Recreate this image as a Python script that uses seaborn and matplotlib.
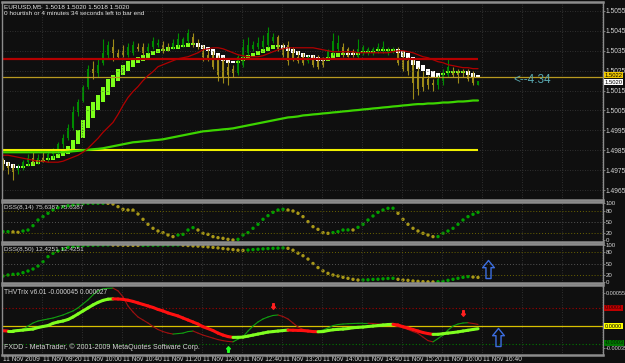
import numpy as np
import pandas as pd
import matplotlib
matplotlib.use("Agg")
import matplotlib.pyplot as plt
import matplotlib.transforms as mtransforms
from matplotlib.collections import LineCollection
from matplotlib.path import Path
import seaborn as sns

# --- EURUSD M5, 11 Nov 2009, one bar every 5 minutes from 08:40 ---
opens = [1.4979, 1.4977, 1.4976, 1.4975, 1.4977, 1.4979, 1.4981, 1.4979, 1.4981, 1.4980,
         1.4983, 1.4985, 1.4988, 1.4991, 1.4996, 1.5004, 1.5010, 1.5017, 1.5026, 1.5024,
         1.5029, 1.5033, 1.5037, 1.5034, 1.5035, 1.5033, 1.5034, 1.5037, 1.5037, 1.5035,
         1.5037, 1.5038, 1.5038, 1.5037, 1.5037, 1.5038, 1.5038, 1.5040, 1.5042, 1.5038,
         1.5035, 1.5033, 1.5033, 1.5032, 1.5030, 1.5027, 1.5026, 1.5024, 1.5028, 1.5034,
         1.5036, 1.5037, 1.5037, 1.5038, 1.5040, 1.5042, 1.5037, 1.5038, 1.5036, 1.5032,
         1.5032, 1.5030, 1.5032, 1.5031, 1.5031, 1.5032, 1.5034, 1.5036, 1.5037, 1.5036,
         1.5035, 1.5032, 1.5034, 1.5034, 1.5034, 1.5035, 1.5035, 1.5034, 1.5035, 1.5036,
         1.5033, 1.5030, 1.5029, 1.5025, 1.5022, 1.5021, 1.5019, 1.5018, 1.5020, 1.5023,
         1.5025, 1.5025, 1.5025, 1.5024, 1.5024, 1.5018]
highs = [1.4981, 1.4979, 1.4978, 1.4978, 1.4980, 1.4983, 1.4984, 1.4983, 1.4984, 1.4985,
         1.4986, 1.4989, 1.4993, 1.4998, 1.5007, 1.5011, 1.5018, 1.5028, 1.5030, 1.5031,
         1.5041, 1.5040, 1.5041, 1.5036, 1.5038, 1.5039, 1.5040, 1.5039, 1.5039, 1.5039,
         1.5042, 1.5041, 1.5040, 1.5039, 1.5041, 1.5044, 1.5042, 1.5046, 1.5044, 1.5041,
         1.5038, 1.5036, 1.5035, 1.5033, 1.5032, 1.5030, 1.5028, 1.5033, 1.5041, 1.5042,
         1.5040, 1.5042, 1.5043, 1.5047, 1.5044, 1.5043, 1.5039, 1.5040, 1.5037, 1.5035,
         1.5034, 1.5033, 1.5033, 1.5033, 1.5032, 1.5036, 1.5044, 1.5043, 1.5039, 1.5037,
         1.5036, 1.5041, 1.5038, 1.5037, 1.5037, 1.5039, 1.5040, 1.5037, 1.5037, 1.5037,
         1.5035, 1.5032, 1.5031, 1.5027, 1.5025, 1.5023, 1.5021, 1.5023, 1.5026, 1.5031,
         1.5027, 1.5026, 1.5026, 1.5026, 1.5025, 1.5020]
lows = [1.4975, 1.4973, 1.4970, 1.4973, 1.4975, 1.4977, 1.4978, 1.4978, 1.4979, 1.4979,
        1.4981, 1.4983, 1.4986, 1.4990, 1.4995, 1.5002, 1.5009, 1.5016, 1.5021, 1.5022,
        1.5028, 1.5031, 1.5030, 1.5031, 1.5032, 1.5032, 1.5033, 1.5035, 1.5033, 1.5034,
        1.5036, 1.5037, 1.5034, 1.5035, 1.5036, 1.5037, 1.5037, 1.5039, 1.5037, 1.5036,
        1.5030, 1.5030, 1.5026, 1.5020, 1.5019, 1.5018, 1.5022, 1.5023, 1.5027, 1.5033,
        1.5035, 1.5036, 1.5036, 1.5037, 1.5039, 1.5035, 1.5032, 1.5028, 1.5030, 1.5029,
        1.5028, 1.5029, 1.5027, 1.5026, 1.5027, 1.5031, 1.5033, 1.5035, 1.5032, 1.5032,
        1.5032, 1.5031, 1.5033, 1.5033, 1.5033, 1.5034, 1.5034, 1.5033, 1.5034, 1.5028,
        1.5025, 1.5023, 1.5011, 1.5013, 1.5015, 1.5016, 1.5015, 1.5016, 1.5018, 1.5022,
        1.5022, 1.5019, 1.5022, 1.5020, 1.5018, 1.5018]
closes = [1.4977, 1.4976, 1.4974, 1.4977, 1.4979, 1.4981, 1.4979, 1.4981, 1.4980, 1.4983,
          1.4985, 1.4988, 1.4991, 1.4996, 1.5004, 1.5009, 1.5017, 1.5026, 1.5024, 1.5028,
          1.5034, 1.5038, 1.5034, 1.5032, 1.5033, 1.5037, 1.5038, 1.5036, 1.5034, 1.5037,
          1.5040, 1.5039, 1.5035, 1.5036, 1.5039, 1.5041, 1.5041, 1.5044, 1.5038, 1.5037,
          1.5032, 1.5031, 1.5027, 1.5023, 1.5022, 1.5023, 1.5024, 1.5032, 1.5037, 1.5038,
          1.5038, 1.5039, 1.5040, 1.5044, 1.5042, 1.5036, 1.5033, 1.5030, 1.5031, 1.5030,
          1.5029, 1.5032, 1.5028, 1.5027, 1.5028, 1.5035, 1.5040, 1.5039, 1.5033, 1.5032,
          1.5033, 1.5036, 1.5037, 1.5036, 1.5036, 1.5037, 1.5037, 1.5036, 1.5036, 1.5029,
          1.5026, 1.5025, 1.5019, 1.5016, 1.5017, 1.5018, 1.5018, 1.5021, 1.5024, 1.5027,
          1.5023, 1.5023, 1.5024, 1.5021, 1.5019, 1.5020]

# Heiken Ashi bodies
ha_open = [1.4980, 1.4979, 1.4978, 1.4977, 1.4976, 1.4977, 1.4977, 1.4978, 1.4979, 1.4980,
           1.4980, 1.4981, 1.4982, 1.4983, 1.4985, 1.4988, 1.4991, 1.4996, 1.5001, 1.5005,
           1.5009, 1.5013, 1.5017, 1.5020, 1.5023, 1.5025, 1.5027, 1.5029, 1.5030, 1.5031,
           1.5033, 1.5034, 1.5035, 1.5035, 1.5036, 1.5036, 1.5037, 1.5037, 1.5038, 1.5039,
           1.5038, 1.5037, 1.5036, 1.5034, 1.5033, 1.5031, 1.5030, 1.5029, 1.5030, 1.5031,
           1.5032, 1.5033, 1.5034, 1.5035, 1.5036, 1.5037, 1.5038, 1.5037, 1.5036, 1.5035,
           1.5034, 1.5033, 1.5033, 1.5032, 1.5031, 1.5030, 1.5031, 1.5032, 1.5033, 1.5034,
           1.5034, 1.5033, 1.5034, 1.5034, 1.5034, 1.5035, 1.5035, 1.5035, 1.5035, 1.5036,
           1.5035, 1.5034, 1.5032, 1.5030, 1.5028, 1.5026, 1.5025, 1.5024, 1.5023, 1.5024,
           1.5024, 1.5024, 1.5024, 1.5025, 1.5024, 1.5023]
ha_close = [1.4978, 1.4977, 1.4976, 1.4976, 1.4977, 1.4978, 1.4979, 1.4980, 1.4980, 1.4981,
            1.4982, 1.4983, 1.4985, 1.4987, 1.4990, 1.4995, 1.5000, 1.5007, 1.5009, 1.5013,
            1.5017, 1.5021, 1.5023, 1.5026, 1.5028, 1.5030, 1.5031, 1.5032, 1.5033, 1.5034,
            1.5035, 1.5036, 1.5036, 1.5037, 1.5037, 1.5038, 1.5038, 1.5039, 1.5039, 1.5037,
            1.5036, 1.5035, 1.5033, 1.5031, 1.5030, 1.5029, 1.5029, 1.5030, 1.5032, 1.5033,
            1.5034, 1.5035, 1.5036, 1.5037, 1.5038, 1.5038, 1.5036, 1.5035, 1.5034, 1.5033,
            1.5032, 1.5032, 1.5031, 1.5030, 1.5030, 1.5032, 1.5034, 1.5034, 1.5034, 1.5033,
            1.5033, 1.5034, 1.5035, 1.5035, 1.5035, 1.5036, 1.5036, 1.5036, 1.5036, 1.5034,
            1.5032, 1.5031, 1.5028, 1.5026, 1.5025, 1.5023, 1.5022, 1.5022, 1.5024, 1.5025,
            1.5025, 1.5025, 1.5025, 1.5023, 1.5022, 1.5022]

# moving averages
ma_red = [1.49825, 1.49825, 1.49820, 1.49815, 1.49810, 1.49805, 1.49800, 1.49795, 1.49795, 1.49790,
          1.49790, 1.49790, 1.49795, 1.49805, 1.49815, 1.49825, 1.49840, 1.49860, 1.49885, 1.49910,
          1.49940, 1.49965, 1.49990, 1.50030, 1.50075, 1.50115, 1.50145, 1.50170, 1.50200, 1.50225,
          1.50245, 1.50270, 1.50280, 1.50290, 1.50300, 1.50310, 1.50315, 1.50320, 1.50330, 1.50340,
          1.50355, 1.50360, 1.50365, 1.50365, 1.50360, 1.50350, 1.50340, 1.50330, 1.50325, 1.50320,
          1.50320, 1.50320, 1.50325, 1.50335, 1.50345, 1.50355, 1.50360, 1.50365, 1.50365, 1.50365,
          1.50365, 1.50365, 1.50365, 1.50360, 1.50355, 1.50350, 1.50345, 1.50345, 1.50345, 1.50345,
          1.50345, 1.50340, 1.50340, 1.50340, 1.50340, 1.50340, 1.50340, 1.50340, 1.50345, 1.50350,
          1.50350, 1.50345, 1.50340, 1.50330, 1.50320, 1.50315, 1.50305, 1.50295, 1.50290, 1.50280,
          1.50275, 1.50270, 1.50265, 1.50265, 1.50260, 1.50260]
ma_green = [1.49840, 1.49840, 1.49840, 1.49840, 1.49840, 1.49840, 1.49840, 1.49840, 1.49840, 1.49840,
            1.49840, 1.49840, 1.49840, 1.49842, 1.49845, 1.49847, 1.49850, 1.49852, 1.49855, 1.49857,
            1.49860, 1.49865, 1.49870, 1.49875, 1.49880, 1.49885, 1.49890, 1.49892, 1.49895, 1.49897,
            1.49900, 1.49902, 1.49905, 1.49910, 1.49915, 1.49920, 1.49925, 1.49930, 1.49935, 1.49940,
            1.49945, 1.49947, 1.49950, 1.49952, 1.49955, 1.49957, 1.49960, 1.49965, 1.49970, 1.49975,
            1.49980, 1.49985, 1.49990, 1.49995, 1.50000, 1.50005, 1.50010, 1.50015, 1.50017, 1.50020,
            1.50025, 1.50027, 1.50030, 1.50032, 1.50035, 1.50037, 1.50040, 1.50042, 1.50045, 1.50047,
            1.50050, 1.50052, 1.50055, 1.50057, 1.50060, 1.50062, 1.50065, 1.50067, 1.50070, 1.50072,
            1.50075, 1.50077, 1.50080, 1.50082, 1.50082, 1.50085, 1.50085, 1.50087, 1.50090, 1.50090,
            1.50092, 1.50095, 1.50095, 1.50097, 1.50100, 1.50100]

level_red = 1.5031
level_yellow = 1.4985
level_gold = 1.5022
bid = 1.5020
spread_note = "<--4.34"

# DSS oscillators
dss_fast = [22.7, 22.7, 22.0, 20.9, 24.5, 27.2, 39.0, 54.5, 63.6, 72.7,
            81.7, 88.0, 90.8, 93.5, 95.4, 98.0, 99.0, 99.9, 100.0, 100.0,
            100.0, 99.9, 98.0, 90.8, 83.6, 81.7, 81.5, 70.8, 56.3, 42.7,
            31.8, 24.5, 20.0, 13.6, 9.1, 13.6, 15.4, 27.2, 33.6, 27.2,
            18.2, 15.4, 9.1, 6.4, 4.5, 1.8, 0.0, 1.8, 13.6, 20.0,
            31.8, 42.7, 56.3, 66.3, 75.4, 81.7, 83.6, 81.7, 79.0, 72.7,
            63.6, 50.0, 36.3, 29.0, 20.0, 18.2, 20.0, 22.7, 27.2, 27.5,
            27.3, 34.5, 42.7, 54.5, 65.4, 75.4, 81.7, 86.3, 86.5, 72.7,
            56.3, 42.7, 31.8, 24.5, 18.2, 13.6, 9.1, 9.3, 18.2, 24.5,
            31.8, 42.7, 54.5, 63.6, 70.0, 75.6]
dss_slow = [16.2, 18.9, 20.7, 21.6, 25.2, 29.7, 35.1, 43.2, 55.0, 68.5,
            77.5, 83.8, 89.2, 93.7, 95.5, 97.3, 98.2, 98.8, 99.3, 99.6,
            99.8, 100.0, 99.7, 99.5, 99.3, 99.1, 99.0, 98.9, 99.0, 99.2,
            99.4, 99.5, 99.6, 99.7, 99.8, 99.9, 99.5, 98.5, 97.6, 97.0,
            96.0, 94.9, 93.5, 92.2, 90.4, 89.0, 87.6, 86.0, 85.5, 86.5,
            87.6, 88.6, 89.5, 90.4, 91.0, 91.5, 92.0, 91.0, 86.0, 78.0,
            71.0, 62.0, 50.0, 39.0, 30.0, 23.4, 18.9, 16.2, 12.6, 9.9,
            7.2, 5.4, 5.6, 6.0, 7.0, 7.5, 8.5, 9.5, 10.0, 7.2,
            5.4, 4.5, 2.7, 1.8, 0.9, 0.5, 0.2, 0.9, 1.8, 4.5,
            7.2, 9.9, 12.6, 14.5, 13.4, 12.4]

# THV Trix
thv_main = [-0.000078, -0.000083, -0.000083, -0.000075, -0.000067, -0.000058, -0.000050, -0.000025, -0.000008, 0.000008,
            0.000045, 0.000067, 0.000083, 0.000108, 0.000150, 0.000200, 0.000250, 0.000300, 0.000350, 0.000392,
            0.000425, 0.000445, 0.000450, 0.000448, 0.000442, 0.000428, 0.000408, 0.000383, 0.000358, 0.000333,
            0.000308, 0.000275, 0.000250, 0.000217, 0.000192, 0.000167, 0.000133, 0.000100, 0.000067, 0.000033,
            -0.000012, -0.000042, -0.000075, -0.000117, -0.000150, -0.000175, -0.000188, -0.000187, -0.000183, -0.000167,
            -0.000150, -0.000133, -0.000117, -0.000100, -0.000092, -0.000083, -0.000075, -0.000067, -0.000070, -0.000072,
            -0.000075, -0.000083, -0.000092, -0.000095, -0.000092, -0.000075, -0.000062, -0.000055, -0.000050, -0.000042,
            -0.000028, -0.000022, -0.000017, -0.000008, 0.000000, 0.000008, 0.000017, 0.000025, 0.000028, 0.000017,
            -0.000012, -0.000033, -0.000058, -0.000083, -0.000108, -0.000125, -0.000138, -0.000137, -0.000128, -0.000117,
            -0.000108, -0.000097, -0.000083, -0.000070, -0.000057, -0.000045]
thv_signal = [-0.000067, -0.000075, -0.000075, -0.000067, -0.000058, 0.000000, 0.000050, 0.000083, 0.000100, 0.000117,
              0.000133, 0.000158, 0.000183, 0.000217, 0.000250, 0.000300, 0.000367, 0.000433, 0.000517, 0.000583,
              0.000617, 0.000625, 0.000628, 0.000583, 0.000483, 0.000333, 0.000233, 0.000150, 0.000100, 0.000050,
              -0.000008, -0.000058, -0.000092, -0.000117, -0.000133, -0.000125, -0.000117, -0.000092, -0.000083, -0.000117,
              -0.000150, -0.000175, -0.000200, -0.000225, -0.000242, -0.000255, -0.000262, -0.000217, -0.000178, -0.000083,
              0.000000, 0.000067, 0.000117, 0.000150, 0.000175, 0.000183, 0.000158, 0.000117, 0.000050, -0.000017,
              -0.000055, -0.000075, -0.000083, -0.000082, -0.000067, -0.000033, 0.000008, 0.000025, 0.000033, 0.000038,
              0.000042, 0.000045, 0.000046, 0.000046, 0.000042, 0.000033, 0.000028, 0.000023, 0.000017, -0.000008,
              -0.000028, -0.000058, -0.000092, -0.000122, -0.000183, -0.000242, -0.000262, -0.000208, -0.000150, -0.000067,
              0.000000, 0.000033, 0.000050, 0.000055, 0.000042, 0.000027]
thv_levels = [0.0003, 0.0, -0.0003]
sell_arrows_bar = [54, 92]
sell_arrows_val = [0.00033, 0.00022]
buy_arrows_bar = [45]
buy_arrows_val = [-0.00038]
blue_dss_bar, blue_dss_val = 97, 36
blue_thv_bar, blue_thv_val = 99, -0.000175

time_labels = ["11 Nov 2009", "11 Nov 09:20", "11 Nov 10:00", "11 Nov 10:40", "11 Nov 11:20",
               "11 Nov 12:00", "11 Nov 12:40", "11 Nov 13:20", "11 Nov 14:00", "11 Nov 14:40",
               "11 Nov 15:20", "11 Nov 16:00", "11 Nov 16:40"]
price_ticks = [1.4965, 1.4975, 1.4985, 1.4995, 1.5005, 1.5015, 1.5025, 1.5035, 1.5045, 1.5055]
dss_ticks = [0, 20, 50, 80, 100]

# --- style ---
BG = "#0f0f0f"
FRAME = "#8c8c8c"
GRID = "#3a3a3a"
TXT = "#d4d4d4"
CANDLE_UP, CANDLE_DN = "#008c00", "#9c8a18"
HA_UP, HA_DN = "#7cff1a", "#ffffff"
DOT_UP, DOT_DN = "#00a000", "#a89818"
NARROW = ["Liberation Sans Narrow", "Liberation Sans", "DejaVu Sans"]

sns.set_theme(style="dark", rc={"axes.facecolor": BG, "figure.facecolor": BG})
plt.rcParams["font.family"] = ["Liberation Sans", "DejaVu Sans"]

W, H = 625, 363
fig = plt.figure(figsize=(W / 100, H / 100), dpi=100, facecolor=BG)

bars = np.arange(len(closes))
grid_bars = np.arange(0, 121, 8) - 0.2


def panel(top, bottom):
    ax = fig.add_axes([2 / W, 1 - bottom / H, 601 / W, (bottom - top) / H])
    ax.set_facecolor(BG)
    ax.set_xlim(-0.2, 120.0)
    for s in ax.spines.values():
        s.set_color(FRAME)
        s.set_linewidth(1.0)
    ax.spines["top"].set_linewidth(1.8)
    ax.spines["bottom"].set_linewidth(1.8)
    ax.grid(False)
    ax.yaxis.tick_right()
    ax.tick_params(axis="y", colors=FRAME, labelcolor=TXT, labelsize=4.8, length=1.5, width=0.6, pad=0.5)
    ax.tick_params(axis="x", length=0, labelbottom=False)
    return ax


def finish(ax, lim, ticks, labels):
    ax.set_xlim(-0.2, 120.0)
    ax.set_ylim(*lim)
    ax.set_xlabel("")
    ax.set_ylabel("")
    ax.set_yticks(ticks)
    ax.set_yticklabels(labels, family=NARROW)


def side_label(ax, val, text, face, color="black", size=4.6):
    tr = mtransforms.blended_transform_factory(ax.transAxes, ax.transData)
    ax.text(1.003, val, text, transform=tr, fontsize=size, color=color, va="center", ha="left",
            family=NARROW, clip_on=False, bbox=dict(facecolor=face, edgecolor="none", pad=0.4))


def trend_line(ax, y, up, down, lw):
    y = np.asarray(y)
    pts = np.column_stack([bars, y])
    segs = np.stack([pts[:-1], pts[1:]], axis=1)
    cols = [up if b >= a else down for a, b in zip(y[:-1], y[1:])]
    ax.add_collection(LineCollection(segs, colors=cols, linewidths=lw, capstyle="round"))


arrow_up = Path([(0, 1), (0.65, 0.2), (0.28, 0.2), (0.28, -1), (-0.28, -1), (-0.28, 0.2), (-0.65, 0.2), (0, 1)],
                [Path.MOVETO] + [Path.LINETO] * 6 + [Path.CLOSEPOLY])
arrow_down = Path(arrow_up.vertices * [1, -1], arrow_up.codes)

# --- main price window ---
main_lim = (1.4960, 1.50595)
ax = panel(2, 200)
ax.vlines(grid_bars, *main_lim, colors=GRID, linestyles=(0, (1, 2)), lw=0.6)
ax.hlines(price_ticks, -0.2, 120, colors=GRID, linestyles=(0, (1, 2)), lw=0.6)

o, hi, lo, c = map(np.asarray, (opens, highs, lows, closes))
cdl_col = np.where(c >= o, CANDLE_UP, CANDLE_DN)
ax.vlines(bars, lo, hi, colors=cdl_col, lw=0.8)
ax.bar(bars, np.maximum(np.abs(c - o), 0.00004), bottom=np.minimum(o, c), width=0.55, color=cdl_col, linewidth=0)

hao, hac = np.asarray(ha_open), np.asarray(ha_close)
ha_col = np.where(hac >= hao, HA_UP, HA_DN)
ax.bar(bars, np.maximum(np.abs(hac - hao), 0.00005), bottom=np.minimum(hao, hac), width=0.7, color=ha_col, linewidth=0)

ax.hlines(level_red, -0.2, bars[-1], colors="#b40000", lw=1.6)
ax.hlines(level_yellow, -0.2, bars[-1], colors="#f0f000", lw=1.5)
ax.hlines(level_gold, -0.2, 120, colors="#b89a20", lw=0.9)
sns.lineplot(x=bars, y=ma_green, color="#3cd400", lw=1.6, ax=ax)
sns.lineplot(x=bars, y=ma_red, color="#b00000", lw=0.9, ax=ax)
finish(ax, main_lim, price_ticks, [f"{p:.4f}" for p in price_ticks])

ax.text(0.004, 0.99, "EURUSD,M5  1.5018 1.5020 1.5018 1.5020", transform=ax.transAxes, va="top", ha="left",
        fontsize=4.6, color="#e8e8e8", family=NARROW)
ax.text(0.004, 0.955, "0 hourtish or 4 minutes 34 seconds left to bar end", transform=ax.transAxes, va="top",
        ha="left", fontsize=4.6, color="#e8e8e8", family=NARROW)
ax.text(102, bid + 0.00003, spread_note, fontsize=8.5, color="#58a8b0", va="center", ha="left")
side_label(ax, level_gold + 0.00008, f"{level_gold:.4f}", "#f0c800", size=4.2)
side_label(ax, bid - 0.00008, f"{bid:.4f}", "#ffffff", size=4.2)

# --- DSS windows ---
for (top, bottom, vals, label, lim) in [(202, 242, dss_fast, "DSS(8,14) 75.6387 75.6387", (-5.5, 103.5)),
                                        (244, 283, dss_slow, "DSS(8,50) 12.4251 12.4251", (-2.7, 102.7))]:
    axd = panel(top, bottom)
    d = pd.DataFrame({"bar": bars, "v": vals})
    d["dir"] = np.where(d["v"].diff().fillna(0) >= 0, "up", "down")
    axd.vlines(grid_bars, *lim, colors=GRID, linestyles=(0, (1, 2)), lw=0.6)
    axd.axhline(80, color="#6a6400", ls=(0, (1, 2)), lw=0.7)
    axd.axhline(50, color="#555555", ls=(0, (1, 2)), lw=0.7)
    axd.axhline(20, color="#6a6400", ls=(0, (1, 2)), lw=0.7)
    sns.scatterplot(data=d, x="bar", y="v", hue="dir", palette={"up": DOT_UP, "down": DOT_DN},
                    s=6, linewidth=0, legend=False, ax=axd)
    finish(axd, lim, dss_ticks, [str(t) for t in dss_ticks])
    axd.tick_params(axis="y", labelsize=4.4)
    axd.text(0.004, 0.93, label, transform=axd.transAxes, va="top", ha="left", fontsize=4.6, color=TXT,
             family=NARROW)
    if top == 244:
        axd.plot([blue_dss_bar], [blue_dss_val], marker=arrow_up, ms=13, mfc="none", mec="#3c6ee0", mew=1.0)

# --- THV window ---
thv_lim = (-0.00048, 0.00068)
axt = panel(285, 355)
axt.vlines(grid_bars, *thv_lim, colors=GRID, linestyles=(0, (1, 2)), lw=0.6)
axt.axhline(thv_levels[0], color="#a00000", ls=(0, (1, 2)), lw=0.8)
axt.axhline(thv_levels[1], color="#d8c000", lw=0.9)
axt.axhline(thv_levels[2], color="#007a00", ls=(0, (1, 2)), lw=0.8)
trend_line(axt, thv_signal, "#10a010", "#a01010", 0.8)
trend_line(axt, thv_main, "#80ff20", "#ff1010", 2.2)
axt.plot(sell_arrows_bar, sell_arrows_val, ls="none", marker=arrow_down, ms=4, mfc="#ff2020", mec="#ff2020")
axt.plot(buy_arrows_bar, buy_arrows_val, ls="none", marker=arrow_up, ms=4, mfc="#20ff20", mec="#20ff20")
axt.plot([blue_thv_bar], [blue_thv_val], marker=arrow_up, ms=13, mfc="none", mec="#3c6ee0", mew=1.0)
finish(axt, thv_lim, [0.00055, -0.00037], ["0.00055", "-0.00035"])
axt.tick_params(axis="y", labelsize=4.0)
side_label(axt, thv_levels[0], "0.0003", "#c00000", "#300000", size=4.1)
side_label(axt, thv_levels[1], "0.0000", "#ffff00", size=4.1)
side_label(axt, thv_levels[2] + 0.00002, "-0.0003", "#007800", "#002000", size=4.0)
axt.text(0.004, 0.95, "THVTrix v6.01 -0.000045 0.000027", transform=axt.transAxes, va="top", ha="left",
         fontsize=4.8, color=TXT)
axt.text(0.004, 0.06, "FXDD - MetaTrader, \u00a9 2001-2009 MetaQuotes Software Corp.", transform=axt.transAxes,
         va="bottom", ha="left", fontsize=5, color=TXT)
axt.set_xticks(np.arange(0, 97, 8))
axt.set_xticklabels(time_labels, ha="left", family=NARROW)
axt.tick_params(axis="x", length=2, width=0.6, colors=FRAME, labelcolor=TXT, labelsize=4.8, pad=-1,
                labelbottom=True)

fig.savefig("out.png", dpi=100, facecolor=BG)
